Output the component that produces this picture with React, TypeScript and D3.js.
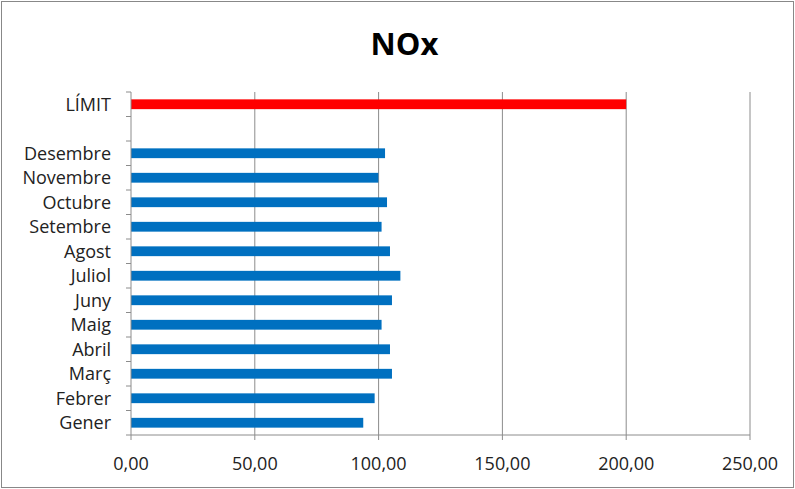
import React from "react";
import * as d3 from "d3";

const categories = ["Gener", "Febrer", "Març", "Abril", "Maig", "Juny", "Juliol", "Agost", "Setembre", "Octubre", "Novembre", "Desembre", "", "LÍMIT"];
const values = [93.8, 98.4, 105.4, 104.6, 101.2, 105.4, 108.8, 104.6, 101.2, 103.4, 99.9, 102.6, null, 200];
const barColors = ["#0070C0", "#0070C0", "#0070C0", "#0070C0", "#0070C0", "#0070C0", "#0070C0", "#0070C0", "#0070C0", "#0070C0", "#0070C0", "#0070C0", "#0070C0", "#FF0000"];
const xTicks = [0, 50, 100, 150, 200, 250];
const title = "NOx";

const W = 795, H = 489;
const left = 131, right = 750, top = 92, bottom = 435;

export default function App() {
  const x = d3.scaleLinear().domain([0, 250]).range([left, right]);
  const yOrder = [...categories.keys()].reverse().map(String);
  const y = d3.scaleBand().domain(yOrder).range([top, bottom]).paddingInner(0.6).paddingOuter(0.3);
  const band = (bottom - top) / categories.length;
  const fmt = (v: number) => v.toFixed(2).replace(".", ",");
  const font = "'Open Sans', 'Noto Sans', sans-serif";
  return (
    <svg width={W} height={H} style={{ position: "absolute", left: 0, top: 0, background: "#fff" }}>
      <rect x={1.5} y={1.5} width={W - 3} height={H - 3} fill="#fff" stroke="#888" strokeWidth={1} />
      <text x={W / 2 + 7} y={55} textAnchor="middle" fontFamily={font} fontWeight="bold" fontSize={31} fill="#000">{title}</text>
      {xTicks.slice(1).map((t) => (
        <line key={t} x1={x(t)} x2={x(t)} y1={top} y2={bottom} stroke="#8c8c8c" strokeWidth={1} />
      ))}
      {categories.map((c, i) => {
        const v = values[i];
        if (v == null) return null;
        const yy = y(String(i))!;
        return <rect key={i} x={x(0)} y={yy} width={x(v) - x(0)} height={y.bandwidth()} fill={barColors[i]} />;
      })}
      <line x1={left} x2={right} y1={bottom} y2={bottom} stroke="#8c8c8c" />
      <line x1={left} x2={left} y1={top} y2={bottom} stroke="#8c8c8c" />
      {xTicks.map((t) => (
        <g key={t}>
          <line x1={x(t)} x2={x(t)} y1={bottom} y2={bottom + 5} stroke="#8c8c8c" />
          <text x={x(t)} y={470} textAnchor="middle" fontFamily={font} fontSize={18} fill="#222">{fmt(t)}</text>
        </g>
      ))}
      {d3.range(categories.length + 1).map((k) => (
        <line key={k} x1={left - 5} x2={left} y1={top + k * band} y2={top + k * band} stroke="#8c8c8c" />
      ))}
      {categories.map((c, i) => (
        <text key={i} x={left - 20} y={y(String(i))! + y.bandwidth() / 2} dy="0.35em" textAnchor="end" fontFamily={font} fontSize={18} fill="#222">{c}</text>
      ))}
    </svg>
  );
}
